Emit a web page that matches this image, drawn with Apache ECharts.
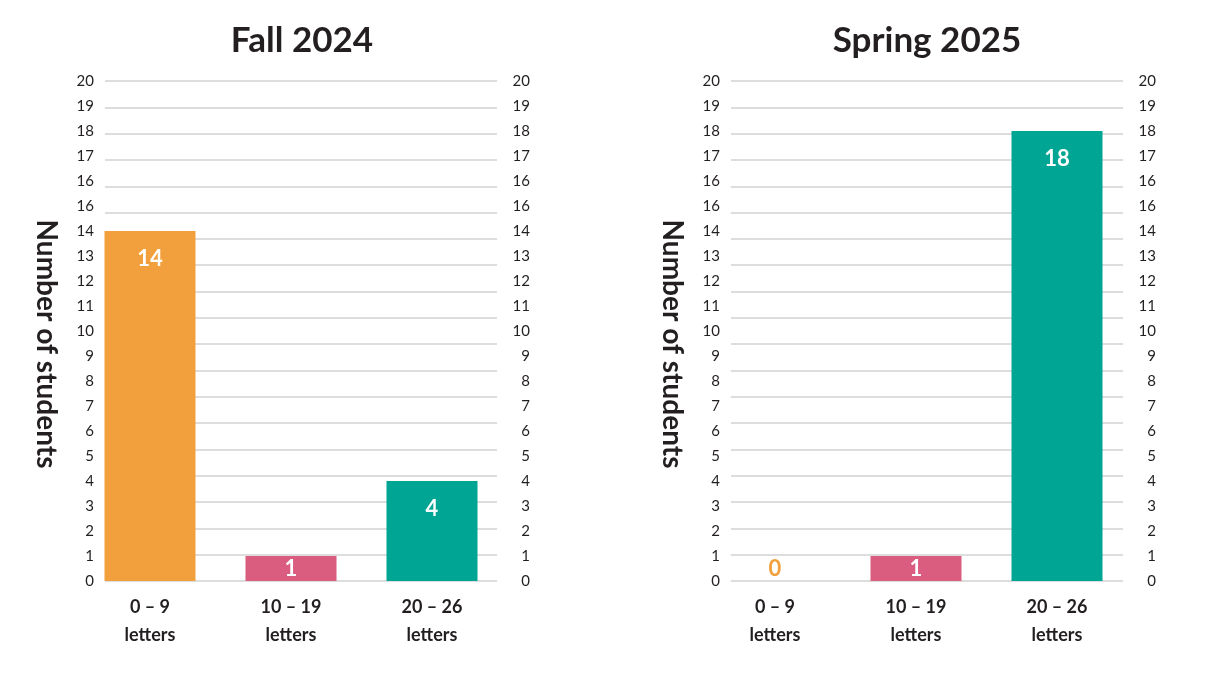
<!DOCTYPE html>
<html>
<head>
<meta charset="utf-8">
<script src="https://cdn.jsdelivr.net/npm/echarts@6/dist/echarts.min.js"></script>
<style>
html,body{margin:0;padding:0;background:#fff;}
#c{width:1223px;height:689px;}
</style>
</head>
<body>
<div id="c"></div>
<script>
const categories = ["0 – 9\nletters", "10 – 19\nletters", "20 – 26\nletters"];
const fall2024 = [14, 1, 4];
const spring2025 = [0, 1, 18];
const barColors = ["#F2A03D", "#DA5C7F", "#00A693"];
const yTickLabels = ["0","1","2","3","4","5","6","7","8","9","10","11","12","13","14","16","16","17","18","19","20"];
const gridLineCount = 19; // the reference draws 20 rules over 19 equal gaps
const titles = ["Fall 2024", "Spring 2025"];
const yName = "Number of students";

const FONT = "Lato, 'Open Sans', sans-serif";
const TXT = "#231f20";

const chart = echarts.init(document.getElementById('c'), null, {renderer: 'canvas'});

function barData(vals) {
  return vals.map((v, i) => {
    const d = {value: v, itemStyle: {color: barColors[i]}};
    if (v === 0) {
      d.label = {position: 'top', distance: 1, color: barColors[i]};
    } else if (v <= 1) {
      d.label = {position: 'inside'};
    }
    return d;
  });
}

const panels = [
  {axisLeft: 105, barLeft: 79.5, titleX: 302, nameX: 46, data: fall2024},
  {axisLeft: 731, barLeft: 704.5, titleX: 927, nameX: 672, data: spring2025}
];

const grid = [], xAxis = [], yAxis = [], series = [], graphic = [];
const gTop = 81, gH = 500, axisW = 392, barW = 423;

panels.forEach((p, k) => {
  const ga = grid.length;
  grid.push({left: p.axisLeft, top: gTop, width: axisW, height: gH});
  const gb = grid.length;
  grid.push({left: p.barLeft, top: gTop, width: barW, height: gH});

  xAxis.push({gridIndex: ga, type: 'category', data: categories, show: false});
  const xb = xAxis.length;
  xAxis.push({
    gridIndex: gb, type: 'category', data: categories,
    axisLine: {show: false}, axisTick: {show: false},
    axisLabel: {margin: 12, fontFamily: FONT, fontWeight: 'bold', fontSize: 18, lineHeight: 28, color: TXT}
  });

  yAxis.push({
    gridIndex: ga, type: 'value', position: 'left', min: 0, max: gridLineCount, interval: 1,
    axisLine: {show: false}, axisTick: {show: false}, axisLabel: {show: false},
    splitLine: {show: true, lineStyle: {color: '#d2d2d2', width: 1.5}}
  });
  yAxis.push({
    gridIndex: ga, type: 'value', position: 'left', min: 0, max: 20, interval: 1,
    axisLine: {show: false}, axisTick: {show: false}, splitLine: {show: false},
    axisLabel: {margin: 11, fontFamily: FONT, fontSize: 15, color: TXT,
      formatter: v => yTickLabels[v]}
  });
  yAxis.push({
    gridIndex: ga, type: 'value', position: 'right', min: 0, max: 20, interval: 1,
    axisLine: {show: false}, axisTick: {show: false}, splitLine: {show: false},
    axisLabel: {margin: 33, align: 'right', fontFamily: FONT, fontSize: 15, color: TXT,
      formatter: v => yTickLabels[v]}
  });
  const yb = yAxis.length;
  yAxis.push({gridIndex: gb, type: 'value', min: 0, max: 20, interval: 1, show: false});

  series.push({
    type: 'bar', xAxisIndex: xb, yAxisIndex: yb,
    data: barData(p.data), barWidth: 91,
    label: {show: true, position: 'insideTop', distance: 17, color: '#fff',
      fontFamily: FONT, fontWeight: 'bold', fontSize: 22},
    z: 3
  });

  graphic.push({
    type: 'text', x: p.titleX, y: 41,
    style: {text: titles[k], fontFamily: FONT, fontWeight: 'bold', fontSize: 35, fill: TXT,
      align: 'center', verticalAlign: 'middle'}
  });
  graphic.push({
    type: 'text', x: p.nameX, y: 344, rotation: -Math.PI / 2,
    style: {text: yName, fontFamily: FONT, fontWeight: 'bold', fontSize: 28, fill: TXT,
      align: 'center', verticalAlign: 'middle'}
  });
});

chart.setOption({
  backgroundColor: '#fff',
  animation: false,
  grid, xAxis, yAxis, series, graphic
});
</script>
</body>
</html>
